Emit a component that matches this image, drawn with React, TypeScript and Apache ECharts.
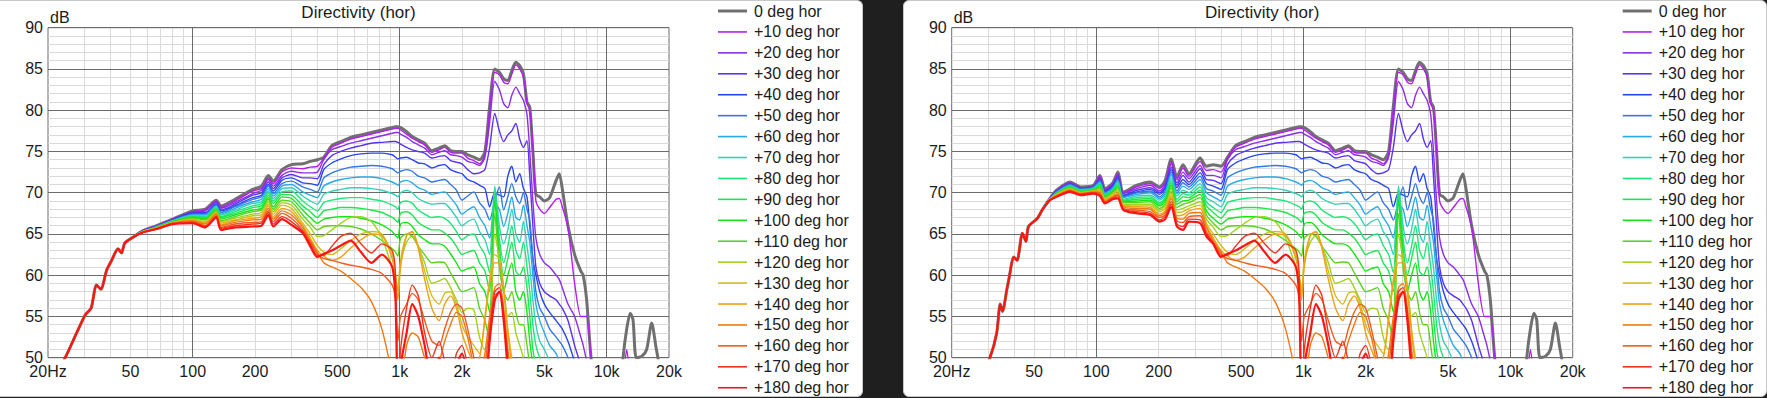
import React, { useEffect, useRef } from 'react';
import * as echarts from 'echarts';

// ---------- labels / styling data ----------
const ANGLES = [0, 10, 20, 30, 40, 50, 60, 70, 80, 90, 100, 110, 120, 130, 140, 150, 160, 170, 180];
const SERIES_NAMES = ANGLES.map((a) => (a === 0 ? '0 deg hor' : `+${a} deg hor`));
const COLORS = [
  '#707070', '#b41ef0', '#8c2ee6', '#5a32f0', '#2846f0', '#3278e6', '#28aae6', '#32d2b4', '#1ee678', '#1ee650',
  '#14e614', '#5ad21e', '#a0d21e', '#d2be1e', '#f0a014', '#f07814', '#f05a1e', '#f0321e', '#ff1414',
];
const TITLE = 'Directivity (hor)';
const Y_NAME = 'dB';
const X_LABEL_VALUES = [20, 50, 100, 200, 500, 1000, 2000, 5000, 10000, 20000];
const X_MAJOR = [100, 1000, 10000];
const X_MINOR = [30, 40, 50, 60, 70, 80, 90, 200, 300, 400, 500, 600, 700, 800, 900, 2000, 3000, 4000, 5000, 6000, 7000, 8000, 9000];

// ---------- panel A (left) low-frequency data ----------
const FREQ_A_START = [20, 24.2, 27.5, 30.3, 32.3, 34.3, 36, 38.4, 40.6, 43.6, 45.3, 47, 51.5];
const DB_A_START = [46.5, 50.0, 53.0, 55.2, 56.0, 58.8, 58.3, 60.6, 61.8, 63.2, 62.7, 63.9, 64.6];
const FREQ_A_FAN = [57.6, 67, 80, 100, 115, 130, 137, 160, 195, 215, 232, 245, 270, 300, 340, 370, 400];
const FAN_A = [
  [65.4, 66.0, 66.8, 67.8, 68.0, 69.1, 68.4, 69.2, 70.4, 70.8, 72.1, 71.4, 72.8, 73.4, 73.5, 73.8, 74.0],
  [65.4, 66.0, 66.8, 67.7, 67.9, 69.0, 68.2, 69.0, 70.2, 70.5, 71.8, 71.1, 72.5, 73.0, 72.9, 73.1, 73.2],
  [65.4, 66.0, 66.7, 67.6, 67.8, 68.9, 68.1, 68.8, 69.9, 70.3, 71.6, 70.8, 72.1, 72.6, 72.4, 72.4, 72.5],
  [65.4, 65.9, 66.7, 67.6, 67.6, 68.8, 67.9, 68.6, 69.7, 70.0, 71.3, 70.5, 71.8, 72.2, 71.8, 71.8, 71.7],
  [65.4, 65.9, 66.7, 67.5, 67.5, 68.6, 67.8, 68.4, 69.4, 69.7, 71.0, 70.2, 71.5, 71.8, 71.2, 71.1, 70.9],
  [65.3, 65.9, 66.6, 67.4, 67.4, 68.5, 67.6, 68.3, 69.2, 69.5, 70.8, 69.9, 71.1, 71.4, 70.7, 70.4, 70.1],
  [65.3, 65.9, 66.6, 67.3, 67.3, 68.4, 67.4, 68.1, 68.9, 69.2, 70.5, 69.6, 70.8, 71.0, 70.1, 69.7, 69.4],
  [65.3, 65.8, 66.6, 67.2, 67.1, 68.3, 67.3, 67.9, 68.7, 68.9, 70.2, 69.3, 70.5, 70.6, 69.6, 69.0, 68.6],
  [65.3, 65.8, 66.5, 67.1, 67.0, 68.2, 67.1, 67.7, 68.4, 68.7, 70.0, 69.0, 70.1, 70.2, 69.0, 68.3, 67.8],
  [65.3, 65.8, 66.5, 67.1, 66.9, 68.1, 67.0, 67.5, 68.2, 68.4, 69.7, 68.7, 69.8, 69.7, 68.4, 67.7, 67.0],
  [65.3, 65.8, 66.5, 67.0, 66.8, 67.9, 66.8, 67.3, 67.9, 68.1, 69.4, 68.3, 69.5, 69.3, 67.9, 67.0, 66.3],
  [65.3, 65.8, 66.4, 66.9, 66.7, 67.8, 66.6, 67.1, 67.7, 67.9, 69.2, 68.0, 69.1, 68.9, 67.3, 66.3, 65.5],
  [65.3, 65.7, 66.4, 66.8, 66.5, 67.7, 66.5, 66.9, 67.4, 67.6, 68.9, 67.7, 68.8, 68.5, 66.8, 65.8, 64.7],
  [65.3, 65.7, 66.4, 66.7, 66.4, 67.6, 66.3, 66.7, 67.2, 67.3, 68.6, 67.4, 68.5, 68.1, 66.3, 65.0, 63.6],
  [65.2, 65.7, 66.3, 66.6, 66.3, 67.5, 66.1, 66.6, 66.9, 67.1, 68.4, 67.1, 68.1, 67.7, 66.0, 64.5, 63.0],
  [65.2, 65.7, 66.3, 66.6, 66.2, 67.4, 66.0, 66.4, 66.7, 66.8, 68.1, 66.8, 67.8, 67.3, 65.8, 64.2, 62.8],
  [65.2, 65.6, 66.3, 66.5, 66.0, 67.2, 65.8, 66.2, 66.4, 66.5, 67.8, 66.5, 67.5, 66.9, 65.5, 64.0, 62.6],
  [65.2, 65.6, 66.2, 66.4, 65.9, 67.1, 65.7, 66.0, 66.2, 66.3, 67.6, 66.2, 67.1, 66.5, 65.3, 63.8, 62.4],
  [65.2, 65.6, 66.2, 66.3, 65.8, 67.0, 65.5, 65.8, 65.9, 66.0, 67.3, 65.9, 66.8, 66.1, 65.1, 63.5, 62.2],
];

// ---------- panel B (right) low-frequency data ----------
const FREQ_B_START = [25, 30.6, 33, 34.3, 35.2, 36.9, 37.7, 39.9, 41.4, 43.9, 45.7, 47, 51.9, 54.7];
const DB_B_START = [45.0, 50.0, 53.0, 56.5, 55.6, 58.2, 59.4, 62.2, 61.8, 65.1, 64.1, 65.9, 66.9, 67.9];
const FREQ_B_FAN = [59.7, 64.2, 74.6, 84, 96.7, 104, 110, 120, 127, 135, 157, 182, 202, 215, 230, 245, 262, 280, 317, 340, 367, 400];
const FAN_B = [
  [69.3, 70.3, 71.3, 70.7, 70.9, 72.1, 70.5, 71.2, 72.5, 70.1, 70.9, 71.3, 70.7, 71.5, 74.1, 71.9, 73.4, 72.3, 74.2, 73.2, 73.4, 73.2],
  [69.3, 70.3, 71.2, 70.6, 70.8, 72.0, 70.4, 71.1, 72.3, 70.0, 70.7, 71.1, 70.5, 71.2, 73.8, 71.6, 73.0, 72.0, 73.8, 72.7, 72.8, 72.5],
  [69.3, 70.2, 71.2, 70.6, 70.8, 71.8, 70.3, 71.0, 72.1, 69.9, 70.5, 70.9, 70.2, 71.0, 73.5, 71.2, 72.5, 71.7, 73.3, 72.1, 72.1, 71.8],
  [69.3, 70.2, 71.1, 70.5, 70.7, 71.7, 70.2, 70.9, 72.0, 69.7, 70.3, 70.6, 70.0, 70.7, 73.1, 70.9, 72.1, 71.3, 72.9, 71.6, 71.5, 71.1],
  [69.3, 70.1, 71.0, 70.5, 70.7, 71.5, 70.1, 70.8, 71.8, 69.6, 70.1, 70.4, 69.8, 70.5, 72.8, 70.6, 71.6, 71.0, 72.4, 71.1, 70.8, 70.4],
  [69.2, 70.1, 71.0, 70.4, 70.6, 71.4, 70.0, 70.6, 71.6, 69.5, 70.0, 70.2, 69.5, 70.2, 72.5, 70.2, 71.2, 70.7, 72.0, 70.5, 70.2, 69.7],
  [69.2, 70.0, 70.9, 70.4, 70.6, 71.3, 69.9, 70.5, 71.4, 69.4, 69.8, 70.0, 69.3, 69.9, 72.2, 69.9, 70.8, 70.4, 71.6, 70.0, 69.5, 69.0],
  [69.2, 70.0, 70.8, 70.3, 70.5, 71.1, 69.8, 70.4, 71.3, 69.2, 69.6, 69.7, 69.1, 69.7, 71.8, 69.6, 70.3, 70.0, 71.1, 69.4, 68.9, 68.3],
  [69.2, 69.9, 70.8, 70.3, 70.5, 71.0, 69.7, 70.3, 71.1, 69.1, 69.4, 69.5, 68.8, 69.4, 71.5, 69.2, 69.9, 69.7, 70.7, 68.9, 68.2, 67.6],
  [69.2, 69.9, 70.7, 70.2, 70.4, 70.9, 69.6, 70.2, 70.9, 69.0, 69.2, 69.3, 68.6, 69.2, 71.2, 68.9, 69.5, 69.4, 70.3, 68.4, 67.6, 66.9],
  [69.2, 69.9, 70.6, 70.1, 70.3, 70.7, 69.5, 70.1, 70.7, 68.9, 69.0, 69.1, 68.4, 68.9, 70.9, 68.6, 69.0, 69.1, 69.8, 67.8, 66.9, 66.2],
  [69.2, 69.8, 70.6, 70.1, 70.3, 70.6, 69.4, 70.0, 70.5, 68.8, 68.8, 68.9, 68.1, 68.6, 70.6, 68.2, 68.6, 68.8, 69.4, 67.3, 66.3, 65.5],
  [69.2, 69.8, 70.5, 70.0, 70.2, 70.4, 69.3, 69.9, 70.4, 68.6, 68.6, 68.6, 67.9, 68.4, 70.2, 67.9, 68.1, 68.4, 68.9, 66.8, 65.8, 64.7],
  [69.2, 69.7, 70.4, 70.0, 70.2, 70.3, 69.2, 69.8, 70.2, 68.5, 68.4, 68.4, 67.7, 68.1, 69.9, 67.6, 67.7, 68.1, 68.5, 66.3, 65.0, 63.6],
  [69.1, 69.7, 70.4, 69.9, 70.1, 70.2, 69.1, 69.6, 70.0, 68.4, 68.3, 68.2, 67.4, 67.8, 69.6, 67.2, 67.3, 67.8, 68.1, 66.0, 64.5, 63.0],
  [69.1, 69.6, 70.3, 69.9, 70.1, 70.0, 69.0, 69.5, 69.8, 68.3, 68.1, 68.0, 67.2, 67.6, 69.3, 66.9, 66.8, 67.5, 67.6, 65.8, 64.2, 62.8],
  [69.1, 69.6, 70.2, 69.8, 70.0, 69.9, 68.9, 69.4, 69.7, 68.1, 67.9, 67.7, 67.0, 67.3, 68.9, 66.6, 66.4, 67.1, 67.2, 65.3, 64.0, 62.6],
  [69.1, 69.5, 70.2, 69.8, 70.0, 69.7, 68.8, 69.3, 69.5, 68.0, 67.7, 67.5, 66.7, 67.1, 68.6, 66.2, 65.9, 66.8, 66.7, 65.0, 63.9, 62.4],
  [69.1, 69.5, 70.1, 69.7, 69.9, 69.6, 68.7, 69.2, 69.3, 67.9, 67.5, 67.3, 66.5, 66.8, 68.3, 65.9, 65.5, 66.5, 66.3, 64.7, 63.8, 62.2],
];

// ---------- shared mid / high-frequency data (both panels) ----------
const FREQ_H = [
  430, 470, 520, 580, 650, 730, 820, 920, 955, 980, 1010, 1080, 1150, 1230, 1320, 1430,
  1550, 1650, 1760, 1880, 2000, 2130, 2280, 2430, 2580, 2720, 2880, 3030, 3180, 3330, 3480, 3640,
  3800, 3960, 4120, 4250, 4400, 4550, 4750, 5000, 5300, 5700, 5900, 6100, 6500, 7000, 7500, 7700,
  8000, 8400, 9000, 11500, 12000, 12500, 13000, 13400, 13900, 14800, 15600, 16500, 17300, 17800, 19000, 20000,
];
const HIGH = [
  [74.3, 75.7, 76.2, 76.7, 77.0, 77.3, 77.6, 77.9, 78.0, 78.0, 77.9, 77.4, 76.8, 76.4, 76.0, 75.1,
    75.4, 75.7, 75.1, 75.0, 75.0, 74.6, 74.3, 74.0, 75.0, 80.5, 85.0, 84.6, 83.8, 83.6, 84.8, 85.8,
    85.4, 84.4, 81.0, 80.4, 75.0, 69.8, 69.5, 69.0, 69.4, 71.5, 72.3, 70.5, 66.0, 62.5, 60.5, 60.0,
    57.0, 50.0, 44, 44, 50.0, 53.5, 55.4, 54.6, 50.0, 50.2, 51.0, 54.2, 51.3, 49.5, 44, 43],
  [74.2, 75.5, 76.0, 76.5, 76.8, 77.1, 77.4, 77.7, 77.8, 77.8, 77.6, 77.1, 76.6, 76.2, 75.8, 74.9,
    75.2, 75.5, 74.9, 74.8, 74.8, 74.2, 73.9, 73.5, 74.6, 80.0, 84.6, 84.3, 83.4, 83.2, 84.4, 85.5,
    85.0, 84.0, 80.8, 80.0, 75.5, 69.0, 68.0, 67.5, 68.2, 69.2, 69.3, 68.3, 65.8, 59.0, 55.0, 55.0,
    55.0, 50.0, 44, 44, 47, 51.0, 47.0, 44],
  [74.0, 75.2, 75.6, 76.0, 76.3, 76.6, 76.9, 77.2, 77.3, 77.3, 77.1, 76.7, 76.2, 75.8, 75.4, 74.6,
    74.9, 75.1, 74.6, 74.5, 74.3, 73.8, 73.6, 73.3, 74.3, 78.5, 83.5, 82.5, 80.8, 80.3, 81.8, 82.8,
    82.0, 81.2, 79.5, 75.0, 69.0, 64.5, 62.5, 61.5, 61.0, 60.0, 59.5, 58.5, 56.5, 55.0, 52.5, 51.5,
    49.5, 46],
  [73.4, 74.5, 75.0, 75.4, 75.7, 76.0, 76.1, 76.2, 76.2, 76.1, 75.9, 75.5, 75.2, 75.0, 74.8, 74.2,
    74.4, 74.5, 73.9, 73.7, 73.5, 72.8, 72.3, 72.4, 72.8, 75.5, 79.6, 77.5, 76.2, 77.0, 77.5, 78.4,
    76.5, 75.5, 76.3, 72.0, 66.0, 61.0, 59.0, 58.0, 57.5, 57.0, 56.5, 56.0, 54.5, 51.5, 49.0, 47],
  [72.8, 73.6, 74.1, 74.5, 74.7, 74.8, 74.8, 74.6, 74.3, 74.1, 74.2, 74.3, 74.0, 73.6, 73.5, 73.0,
    73.3, 73.4, 72.8, 72.5, 72.3, 71.6, 71.3, 70.9, 70.5, 68.3, 70.0, 69.7, 69.5, 72.0, 73.2, 71.3,
    72.3, 70.5, 69.5, 66.0, 62.0, 60.0, 58.0, 56.5, 55.5, 54.5, 54.0, 53.5, 52.0, 49.5, 47],
  [71.8, 72.4, 72.8, 73.1, 73.2, 73.3, 73.2, 72.9, 72.6, 72.4, 72.6, 72.8, 72.6, 72.0, 71.8, 71.3,
    71.5, 71.6, 71.0, 70.3, 69.1, 69.6, 70.1, 68.8, 68.0, 66.7, 69.0, 70.7, 67.9, 69.5, 71.1, 69.5,
    68.7, 70.0, 68.0, 66.7, 62.0, 58.0, 56.0, 55.0, 53.5, 52.5, 52.0, 51.5, 50.0, 47],
  [70.8, 71.3, 71.6, 71.8, 71.9, 71.9, 71.7, 71.3, 71.1, 70.9, 71.3, 71.5, 71.2, 70.6, 70.3, 69.8,
    70.0, 70.1, 69.4, 68.5, 67.4, 67.9, 68.3, 67.0, 66.0, 64.5, 68.5, 68.0, 65.9, 67.5, 69.5, 67.0,
    66.7, 68.5, 66.0, 64.0, 60.0, 56.5, 54.5, 53.0, 51.5, 50.5, 49.5, 48.5, 46],
  [69.8, 70.2, 70.4, 70.6, 70.6, 70.5, 70.3, 69.9, 69.7, 69.5, 70.0, 70.3, 70.0, 69.3, 68.9, 68.6,
    68.7, 68.7, 68.0, 67.0, 66.0, 66.5, 66.8, 65.3, 64.3, 62.5, 70.8, 66.0, 63.8, 65.5, 68.0, 65.0,
    64.0, 66.5, 63.5, 61.0, 57.0, 54.0, 52.0, 51.0, 49.5, 47],
  [68.8, 69.1, 69.3, 69.4, 69.4, 69.2, 69.0, 68.5, 68.3, 68.0, 68.8, 69.0, 68.7, 67.9, 67.4, 67.0,
    67.1, 66.9, 66.3, 65.3, 64.3, 64.8, 65.0, 63.6, 62.5, 60.3, 70.3, 64.5, 61.5, 63.5, 66.0, 63.0,
    62.0, 64.0, 61.0, 58.0, 54.0, 51.5, 50.0, 49.0, 47],
  [67.8, 68.0, 68.2, 68.2, 68.1, 67.9, 67.6, 67.0, 66.7, 66.4, 67.5, 67.7, 67.3, 66.4, 65.9, 65.5,
    65.5, 65.1, 64.5, 63.5, 62.5, 62.8, 63.0, 61.5, 60.5, 58.0, 69.8, 63.5, 60.0, 62.0, 64.0, 60.5,
    60.0, 61.0, 58.5, 55.0, 51.0, 49.0, 47],
  [66.8, 67.0, 67.1, 67.1, 66.9, 66.6, 66.1, 65.3, 64.8, 64.5, 66.2, 66.4, 65.9, 64.9, 64.3, 63.8,
    63.8, 63.5, 62.6, 61.5, 60.5, 60.8, 61.0, 59.0, 58.0, 55.5, 69.0, 62.0, 58.0, 60.0, 61.5, 58.0,
    57.0, 58.0, 55.5, 52.0, 49.0, 46],
  [65.9, 66.0, 66.0, 65.9, 65.6, 65.0, 64.2, 63.2, 62.8, 62.3, 64.5, 65.0, 64.7, 63.5, 62.5, 61.5,
    61.6, 61.5, 60.3, 59.0, 58.0, 58.2, 58.5, 56.0, 54.5, 52.0, 67.5, 61.0, 58.0, 57.0, 58.0, 55.5,
    54.0, 54.0, 51.5, 49.0, 46],
  [64.8, 65.5, 66.3, 67.0, 67.1, 66.5, 64.5, 61.0, 59.5, 58.2, 61.5, 64.0, 64.8, 63.5, 61.5, 59.0,
    59.3, 59.6, 58.5, 57.0, 55.5, 56.0, 55.8, 52.5, 51.0, 52.0, 65.0, 62.0, 58.5, 55.0, 55.5, 53.0,
    51.5, 50.0, 48, 46],
  [62.8, 62.5, 63.2, 64.2, 65.0, 65.3, 65.0, 62.5, 60.0, 58.0, 61.8, 64.8, 65.2, 63.5, 60.5, 57.5,
    56.5, 57.8, 58.0, 56.5, 54.0, 52.5, 51.5, 50.5, 55.0, 59.5, 62.5, 62.0, 58.5, 53.5, 50.0, 47],
  [62.3, 61.8, 62.2, 63.3, 64.3, 65.0, 64.8, 62.0, 59.5, 57.0, 61.0, 64.8, 65.3, 63.2, 59.5, 56.0,
    54.5, 56.5, 57.5, 56.0, 53.0, 51.0, 49.5, 50.0, 54.5, 59.0, 61.5, 61.5, 58.0, 53.0, 49.0, 46],
  [61.5, 61.0, 60.5, 59.6, 58.5, 56.8, 53.5, 48.0, 46.0, 45.0, 46.0, 51.5, 53.0, 52.5, 50.0, 48.0,
    49.5, 52.0, 54.0, 55.5, 55.0, 52.5, 49.0, 47.0, 50.5, 55.0, 58.5, 59.0, 56.0, 51.0, 47],
  [62.0, 61.8, 61.5, 61.2, 61.0, 60.7, 60.2, 58.8, 57.0, 52.0, 55.0, 56.5, 57.8, 57.0, 54.5, 52.0,
    51.5, 53.5, 55.5, 56.5, 56.0, 53.5, 50.0, 47.0, 49.0, 54.0, 57.5, 58.0, 55.5, 50.5, 46],
  [62.4, 63.5, 64.7, 65.1, 63.8, 62.7, 63.8, 63.0, 60.0, 45.0, 51.0, 56.0, 58.8, 57.5, 53.0, 50.0,
    52.0, 49.5, 47.0, 50.5, 51.5, 49.0, 45.0, 44.0, 46.0, 53.0, 58.0, 58.5, 55.0, 49.5, 45],
  [62.6, 63.0, 63.6, 64.2, 62.8, 61.5, 62.5, 61.0, 57.0, 44.0, 49.0, 53.0, 56.5, 55.0, 51.5, 47.0,
    50.0, 48.0, 45.0, 49.0, 50.5, 48.0, 44.0, 44.0, 45.0, 52.0, 57.0, 58.0, 54.5, 48.5, 44],
];

// ---------- helpers ----------
const zip = (xs: number[], ys: number[]) => ys.map((y, i) => [xs[i], y]);

const FONT = '"Liberation Sans", Arial, sans-serif';
const TEXT_COLOR = '#1c1c1c';
const MAJOR_COLOR = '#6b6b6b';
const MINOR_COLOR = '#dadada';

const GRID_TOP = 27.7;
const GRID_H = 330;
const GRID_W = 621;

const PANELS = [
  { gridLeft: 48, legendX: 718, startF: FREQ_A_START, startDb: DB_A_START, fanF: FREQ_A_FAN, fan: FAN_A },
  { gridLeft: 951.7, legendX: 1622.7, startF: FREQ_B_START, startDb: DB_B_START, fanF: FREQ_B_FAN, fan: FAN_B },
];

const fmtHz = (v: number) => {
  const r = Math.round(v);
  if (r === 20) return '20Hz';
  if (r >= 1000) return `${r / 1000}k`;
  return `${r}`;
};

function buildOption() {
  const grid: any[] = [];
  const xAxis: any[] = [];
  const yAxis: any[] = [];
  const series: any[] = [];
  const graphic: any[] = [];

  PANELS.forEach((p, g) => {
    grid.push({
      left: p.gridLeft, top: GRID_TOP, width: GRID_W, height: GRID_H,
      show: true, borderColor: MAJOR_COLOR, borderWidth: 1, backgroundColor: 'transparent',
    });
    xAxis.push({
      type: 'log', logBase: 10, min: 20, max: 20000, gridIndex: g, position: 'bottom', z: 0,
      axisLine: { show: false }, axisTick: { show: false, customValues: X_MINOR },
      axisLabel: { show: false }, splitLine: { show: true, lineStyle: { color: MINOR_COLOR, width: 1 } },
    });
    xAxis.push({
      type: 'log', logBase: 10, min: 20, max: 20000, gridIndex: g, position: 'bottom', z: 1,
      axisLine: { show: false }, axisTick: { show: false, customValues: X_MAJOR },
      axisLabel: {
        show: true, customValues: X_LABEL_VALUES, formatter: (v: number) => fmtHz(v),
        fontSize: 16, fontFamily: FONT, color: TEXT_COLOR, margin: 6,
      },
      splitLine: { show: true, lineStyle: { color: MAJOR_COLOR, width: 1 } },
    });
    yAxis.push({
      type: 'value', min: 50, max: 90, interval: 1, gridIndex: g, position: 'left', z: 0,
      axisLine: { show: false }, axisTick: { show: false }, axisLabel: { show: false },
      splitLine: { show: true, lineStyle: { color: MINOR_COLOR, width: 1 } },
    });
    yAxis.push({
      type: 'value', min: 50, max: 90, interval: 5, gridIndex: g, position: 'left', z: 1,
      axisLine: { show: false }, axisTick: { show: false },
      axisLabel: { show: true, fontSize: 16, fontFamily: FONT, color: TEXT_COLOR, margin: 5 },
      splitLine: { show: true, lineStyle: { color: MAJOR_COLOR, width: 1 } },
    });

    ANGLES.forEach((_, k) => {
      const data = [
        ...zip(p.startF, p.startDb),
        ...zip(p.fanF, p.fan[k]),
        ...zip(FREQ_H, HIGH[k]),
      ];
      series.push({
        type: 'line', name: SERIES_NAMES[k], xAxisIndex: 2 * g + 1, yAxisIndex: 2 * g + 1,
        data, showSymbol: false, symbol: 'none', smooth: 0.25, clip: true, silent: true,
        lineStyle: { color: COLORS[k], width: k === 0 ? 3 : k === 18 ? 2.2 : 1.4 },
        itemStyle: { color: COLORS[k] },
        z: 2 + k * 0.01,
      });
    });

    // title and unit
    graphic.push({
      type: 'text', x: p.gridLeft + GRID_W / 2, y: 12.5, z: 100,
      style: { text: TITLE, align: 'center', verticalAlign: 'middle', fontSize: 17, fontFamily: FONT, fill: TEXT_COLOR },
    });
    graphic.push({
      type: 'text', x: p.gridLeft + 2, y: 17, z: 100,
      style: { text: Y_NAME, align: 'left', verticalAlign: 'middle', fontSize: 16, fontFamily: FONT, fill: TEXT_COLOR },
    });
    // legend
    SERIES_NAMES.forEach((name, k) => {
      const y = 11 + 20.93 * k;
      graphic.push({
        type: 'line', z: 100,
        shape: { x1: p.legendX, y1: y, x2: p.legendX + 29, y2: y },
        style: { stroke: COLORS[k], lineWidth: k === 0 ? 3 : 1.6 },
      });
      graphic.push({
        type: 'text', x: p.legendX + 36, y, z: 100,
        style: { text: name, align: 'left', verticalAlign: 'middle', fontSize: 16, fontFamily: FONT, fill: TEXT_COLOR },
      });
    });
  });

  return { animation: false, backgroundColor: 'transparent', grid, xAxis, yAxis, series, graphic };
}

export default function App() {
  const ref = useRef<HTMLDivElement>(null);
  useEffect(() => {
    if (!ref.current) return;
    const chart = echarts.init(ref.current, undefined, { renderer: 'svg' });
    chart.setOption(buildOption());
    return () => chart.dispose();
  }, []);

  return (
    <div style={{ position: 'absolute', left: 0, top: 0, width: 1767, height: 398, background: '#1f1f1f', overflow: 'hidden' }}>
      <div style={{
        position: 'absolute', left: 0, top: 0, width: 863, height: 397, background: '#ffffff',
        borderTop: '1px solid #c8c8c8', borderRight: '1px solid #c8c8c8', borderBottom: '1px solid #c8c8c8',
        borderRadius: '0 6px 6px 0', boxSizing: 'border-box',
      }} />
      <div style={{
        position: 'absolute', left: 903, top: 0, width: 864, height: 397, background: '#ffffff',
        border: '1px solid #c8c8c8', borderRadius: 6, boxSizing: 'border-box',
      }} />
      <div ref={ref} style={{ position: 'absolute', left: 0, top: 0, width: 1767, height: 398 }} />
    </div>
  );
}
